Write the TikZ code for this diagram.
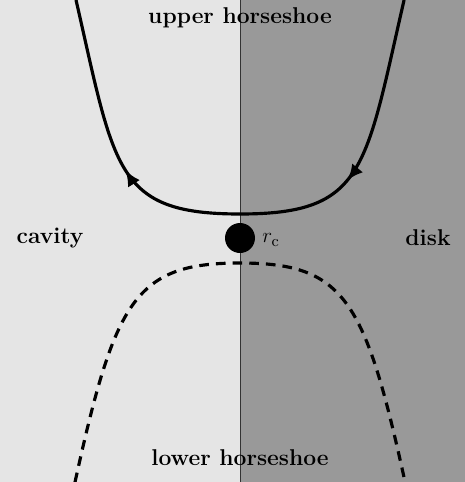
\documentclass[tikz,border=0pt]{standalone}
\usepackage{amsmath}
\usetikzlibrary{arrows.meta,decorations.markings}
\definecolor{cavitygray}{gray}{0.9}
\definecolor{diskgray}{gray}{0.6}
\begin{document}
\begin{tikzpicture}[scale=0.02]
\tikzstyle{every node}+=[inner sep=0pt]
\tikzstyle{regionlabel}=[font=\fontsize{13}{15}\selectfont\bfseries]
\tikzstyle{orbit}=[black, line width=1.8pt]
\tikzstyle{orbitarrow}=[postaction={decorate}, decoration={markings,
  mark=at position 0.31 with {\arrow{Latex[length=9pt,width=8pt]}},
  mark=at position 0.71 with {\arrow{Latex[length=9pt,width=8pt]}}}]
\useasboundingbox (0,0) rectangle (465,-482);
\fill [cavitygray] (0,0) rectangle (240,-482);
\fill [diskgray] (240,0) rectangle (465,-482);
\coordinate (top) at (240,0);
\coordinate (bottom) at (240,-482);
\draw [black!80, line width=0.5pt] (top) -- (bottom);
% upper horseshoe, run from the disk side
\coordinate (uR) at (404,0);
\coordinate (uL) at (76,0);
\draw [orbit, orbitarrow] (uR) .. controls (365,-170) and (365,-214) .. (240,-214)
  .. controls (115,-214) and (115,-170) .. (uL);
% lower horseshoe
\coordinate (lL) at (75,-482);
\coordinate (lR) at (405,-482);
\draw [orbit, dash pattern=on 5.5pt off 4pt] (lL) .. controls (115,-300) and (135,-263) .. (240,-263)
  .. controls (345,-263) and (365,-300) .. (lR);
% corotation point
\node [circle, fill=black, minimum size=30*0.02cm] (rc) at (240,-238) {};
\node [anchor=west, font=\fontsize{13}{15}\selectfont] (rclabel) at (262,-240) {$r_\mathrm{c}$};
\node [regionlabel] (cavity) at (50,-238) {cavity};
\node [regionlabel] (disk) at (428,-238) {disk};
\node [regionlabel] (upper) at (240,-18) {upper horseshoe};
\node [regionlabel] (lower) at (240,-458) {lower horseshoe};
\end{tikzpicture}
\end{document}
